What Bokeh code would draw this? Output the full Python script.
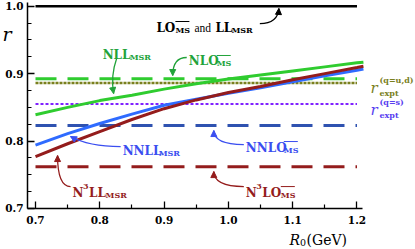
from bokeh.plotting import figure
from bokeh.models import Label, Arrow, NormalHead, FixedTicker, Range1d, PrintfTickFormatter
from bokeh.embed import file_html
from bokeh.resources import INLINE

# ---------------- data ----------------
R0 = [0.70, 0.75, 0.80, 0.85, 0.90, 0.95, 1.00, 1.05, 1.10, 1.15, 1.20, 1.21]
r_NLL_MSR = [0.839, 0.850, 0.860, 0.868, 0.877, 0.885, 0.892, 0.898, 0.904, 0.910, 0.916, 0.917]
r_NNLL_MSR = [0.794, 0.811, 0.826, 0.840, 0.853, 0.862, 0.871, 0.879, 0.888, 0.897, 0.905, 0.907]
r_N3LL_MSR = [0.777, 0.796, 0.814, 0.832, 0.848, 0.861, 0.872, 0.881, 0.891, 0.900, 0.909, 0.911]

R0_flat = [0.7, 1.2]
r_LO = 1.0
r_NLO = 0.8925
r_expt_ud = 0.886
r_expt_s = 0.855
r_NNLO = 0.823
r_N3LO = 0.762

x_ticks = [0.7, 0.8, 0.9, 1.0, 1.1, 1.2]
x_minor = [0.75, 0.85, 0.95, 1.05, 1.15]
y_ticks = [0.7, 0.8, 0.9, 1.0]
y_minor = [0.725, 0.75, 0.775, 0.825, 0.85, 0.875, 0.925, 0.95, 0.975]

# ---------------- styles ----------------
GREEN = "#2fcc2f"
GREEN_T = "#22a33a"
OLIVE = "#7a801e"
PURPLE = "#8022ff"
PURPLE_T = "#5840f0"
BLUE = "#2f6bff"
BLUE_D = "#2f52b0"
BLUE_T = "#3a4ef0"
RED = "#941c1c"
SERIF = "DejaVu Serif"

W, H = 415, 249
X0, X1 = 0.64557, 1.29098      # whole canvas is the frame; axes drawn at fixed locations
Y0, Y1 = 0.63918, 1.00845
AX_X, AX_Y = 0.6875, 0.7
PX_X = W / (X1 - X0)
PX_Y = H / (Y1 - Y0)

p = figure(width=W, height=H, output_backend="svg", toolbar_location=None,
           x_range=Range1d(X0, X1), y_range=Range1d(Y0, Y1),
           min_border_left=0, min_border_right=0, min_border_top=0, min_border_bottom=0)
p.outline_line_color = None
p.xgrid.grid_line_color = None
p.ygrid.grid_line_color = None
p.background_fill_color = "white"

p.xaxis.fixed_location = AX_Y
p.yaxis.fixed_location = AX_X
p.xaxis.bounds = (AX_X, 1.209)
p.yaxis.bounds = (AX_Y, 1.0055)

for ax, tk, mn, so in ((p.xaxis, x_ticks, x_minor, 8), (p.yaxis, y_ticks, y_minor, 4)):
    ax.ticker = FixedTicker(ticks=tk, minor_ticks=mn)
    ax.formatter = PrintfTickFormatter(format="%.1f")
    ax.axis_line_width = 1.5
    ax.major_tick_in = 7
    ax.major_tick_out = 0
    ax.minor_tick_in = 4
    ax.minor_tick_out = 0
    ax.major_tick_line_width = 1.3
    ax.minor_tick_line_width = 1.2
    ax.major_label_text_font = SERIF
    ax.major_label_text_font_style = "bold"
    ax.major_label_text_font_size = "10.5px"
    ax.major_label_text_color = "black"
    ax.major_label_standoff = so

# horizontal reference lines
p.line(R0_flat, [r_LO] * 2, line_color="black", line_width=2.5)
p.line(R0_flat, [r_NLO] * 2, line_color=GREEN, line_width=3, line_dash="21 11")
p.line(R0_flat, [r_expt_ud] * 2, line_color=OLIVE, line_width=2.5, line_dash="3 1")
p.line(R0_flat, [r_expt_s] * 2, line_color=PURPLE, line_width=2, line_dash="3 2")
p.line(R0_flat, [r_NNLO] * 2, line_color=BLUE_D, line_width=3, line_dash="21 11")
p.line(R0_flat, [r_N3LO] * 2, line_color=RED, line_width=3, line_dash="21 11")

# curves
p.line(R0, r_NLL_MSR, line_color=GREEN, line_width=3)
p.line(R0, r_NNLL_MSR, line_color=BLUE, line_width=3)
p.line(R0, r_N3LL_MSR, line_color=RED, line_width=3)


def put(x, y, parts, color):
    for text, dx, dy, size, style, font in parts:
        p.add_layout(Label(x=x, y=y, x_offset=dx, y_offset=dy, text=text,
                           text_font=font, text_font_size=f"{size}px",
                           text_font_style=style, text_color=color,
                           text_baseline="alphabetic", text_align="left"))


def bar(x, y, dx, w, color):
    # overline above a subscript "MS" (offsets in screen pixels)
    p.segment(x0=[x + dx / PX_X], y0=[y + 6 / PX_Y], x1=[x + (dx + w) / PX_X],
              y1=[y + 6 / PX_Y], line_color=color, line_width=1)


def arrow(x0, y0, cx, cy, x1, y1, color):
    p.quadratic(x0=[x0], y0=[y0], cx=[cx], cy=[cy], x1=[x1], y1=[y1],
                line_color=color, line_width=1.3)
    p.add_layout(Arrow(x_start=cx, y_start=cy, x_end=x1, y_end=y1, line_alpha=0,
                       end=NormalHead(size=6, fill_color=color, line_color=color)))


B = "bold"
F = 12
S = 8
# LO_MS and LL_MSR
put(0.888, 0.9684, [("LO", 0, 0, F, B, SERIF), ("MS", 19, -2, S, B, SERIF),
                    ("and", 38, 0, 11.5, "normal", "Liberation Serif"),
                    ("LL", 59, 0, F, B, SERIF), ("MSR", 75, -2, S, B, SERIF)], "black")
bar(0.888, 0.9684, 19, 14, "black")
arrow(1.0489, 0.9743, 1.0769, 0.9743, 1.0785, 0.9966, "black")

# NLL_MSR
put(0.8044, 0.9283, [("NLL", 0, 0, F, B, SERIF), ("MSR", 27, -2, S, B, SERIF)], GREEN_T)
arrow(0.8262, 0.9224, 0.8168, 0.8972, 0.8215, 0.8705, GREEN_T)

# NLO_MS
put(0.9383, 0.918, [("NLO", 0, 0, F, B, SERIF), ("MS", 28, -2, S, B, SERIF)], GREEN_T)
bar(0.9383, 0.918, 28, 14, GREEN_T)
arrow(0.9352, 0.9239, 0.9134, 0.9239, 0.9134, 0.8972, GREEN_T)

# NNLL_MSR
put(0.8355, 0.7859, [("NNLL", 0, 0, F, B, SERIF), ("MSR", 36, -2, S, B, SERIF)], BLUE_T)
arrow(0.8324, 0.7918, 0.7826, 0.7918, 0.7545, 0.8067, BLUE_T)

# NNLO_MS
put(1.0271, 0.7904, [("NNLO", 0, 0, F, B, SERIF), ("MS", 38, -2, S, B, SERIF)], BLUE_T)
bar(1.0271, 0.7904, 38, 14, BLUE_T)
arrow(1.0240, 0.7948, 0.9773, 0.7948, 0.9773, 0.8156, BLUE_T)

# N3LL_MSR
put(0.7576, 0.7236, [("N", 0, 0, F, B, SERIF), ("3", 10.5, 6, S, B, SERIF),
                     ("LL", 16.5, 0, F, B, SERIF), ("MSR", 33, -2, S, B, SERIF)], RED)
arrow(0.7545, 0.7325, 0.7343, 0.7325, 0.7343, 0.7785, RED)

# N3LO_MS
put(1.0271, 0.7236, [("N", 0, 0, F, B, SERIF), ("3", 10.5, 6, S, B, SERIF),
                     ("LO", 16.5, 0, F, B, SERIF), ("MS", 35, -2, S, B, SERIF)], RED)
bar(1.0271, 0.7236, 35, 14, RED)
arrow(1.0240, 0.7325, 0.9773, 0.7325, 0.9773, 0.7547, RED)

# r_expt labels
put(1.2210, 0.8794, [("r", 0, 0, 15, "italic", SERIF), ("(q=u,d)", 9, 8, S, B, SERIF),
                     ("expt", 9, -5, S, B, SERIF)], OLIVE)
put(1.2210, 0.8468, [("r", 0, 0, 15, "italic", SERIF), ("(q=s)", 9, 8, S, B, SERIF),
                     ("expt", 9, -5, S, B, SERIF)], PURPLE_T)

# axis titles
put(X0, 0.9595, [("r", 2, 0, 19, "italic", SERIF)], "black")
put(1.0950, 0.6540, [("R", 0, 0, 14, "italic", SERIF), ("0", 10.5, -3, 9.5, "normal", SERIF),
                     ("(GeV)", 17, 0, 14, "normal", SERIF)], "black")

open("out.html", "w").write(file_html(p, INLINE))
